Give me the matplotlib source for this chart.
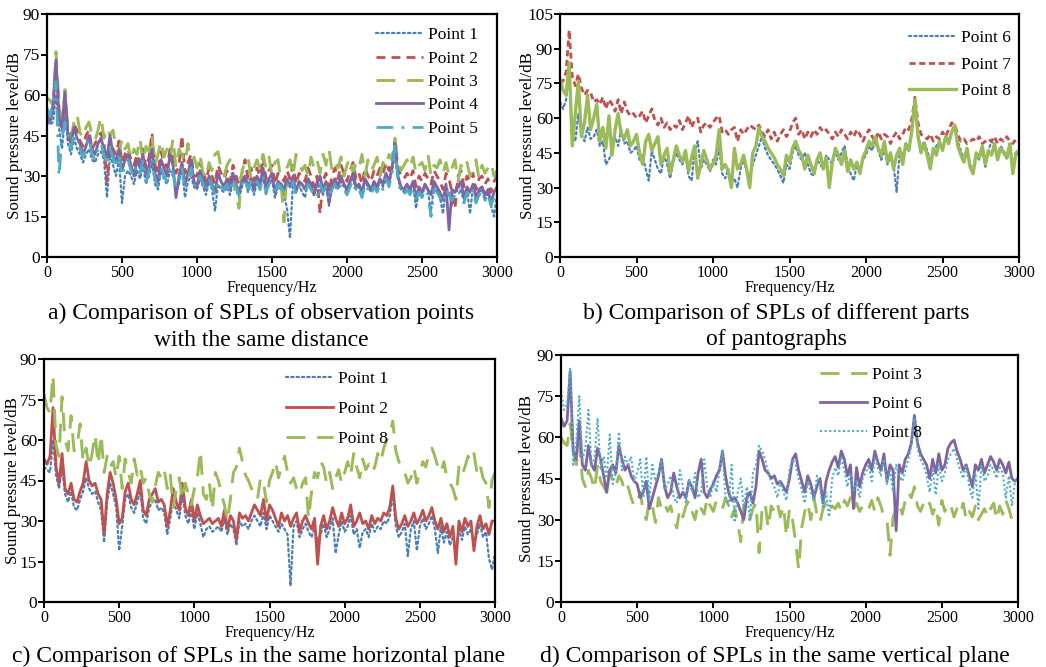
import matplotlib
matplotlib.use("Agg")
import matplotlib.pyplot as plt

plt.rcParams['font.family'] = ['Liberation Serif', 'DejaVu Serif']

# ---------------- data (frequency grid, Hz) ----------------
freq = list(range(0, 3001, 20))

# Panel a
a_point1 = [50,49,50,60,48,40,52,42,38,44, 40,38,35,38,40,36,35,38,39,36,
            22,38,34,30,36,20,30,32,30,27, 32,29,34,27,30,35,27,25,32,29,
            27,32,30,25,27,33,22,28,30,26, 25,29,26,23,28,25,17,27,25,24,
            26,23,28,25,22,26,29,24,27,23, 28,25,30,23,27,29,22,26,25,23,
            18,7,28,25,27,24,22,28,26,24, 28,25,23,27,19,26,29,25,28,26,
            24,27,29,25,26,23,28,26,24,27, 25,28,26,29,27,32,38,29,25,24,
            27,24,28,18,25,22,27,24,17,26, 25,22,16,26,24,19,25,27,24,21,
            25,16,26,22,24,25,21,24,19,15, 23]
a_point2 = [53,51,56,72,55,46,60,47,45,49, 47,43,41,45,47,40,42,44,46,42,
            28,44,40,38,43,35,38,40,36,34, 38,35,40,33,37,46,34,31,39,35,
            33,40,37,31,34,45,31,35,38,30, 30,35,32,28,33,30,27,34,31,29,
            32,28,34,30,27,31,36,29,33,28, 33,30,37,29,32,34,27,31,30,28,
            32,29,34,27,31,30,28,33,30,26, 30,16,28,31,24,30,33,29,34,31,
            28,32,35,29,31,27,33,30,28,32, 30,33,31,35,32,36,43,33,30,29,
            31,29,32,26,30,28,31,29,27,32, 30,28,25,31,29,24,18,30,32,26,
            30,28,31,25,29,30,27,29,24,28, 30]
a_point3 = [59,58,56,76,57,50,62,46,44,50, 53,46,44,48,50,45,43,47,52,44,
            48,45,47,40,38,44,40,42,36,40, 38,44,35,41,39,45,34,38,43,37,
            40,36,44,33,40,38,35,42,30,37, 33,38,31,29,35,32,38,39,33,30,
            34,36,28,23,18,32,35,37,29,33, 36,32,38,33,37,30,35,36,28,13,
            33,36,30,38,35,32,34,30,37,33, 36,31,38,34,40,32,35,33,37,30,
            34,37,31,35,33,38,30,36,32,34, 37,30,35,33,38,36,44,35,32,34,
            36,33,37,31,34,35,32,38,30,34, 33,36,31,35,30,33,36,28,34,32,
            35,30,33,36,29,34,31,33,35,30, 32]
a_point4 = [52,50,55,73,52,48,61,45,42,48, 44,42,38,41,45,40,38,42,44,40,
            37,45,38,35,40,32,36,38,34,30, 36,33,38,30,34,40,31,28,36,33,
            30,38,34,22,30,35,27,31,36,28, 26,32,29,25,30,27,24,31,28,26,
            29,25,31,27,24,28,30,26,29,25, 30,27,33,26,29,31,24,28,27,25,
            29,26,30,24,28,27,25,29,27,23, 27,30,25,28,20,27,29,26,30,27,
            25,28,31,26,27,24,29,27,25,28, 26,29,27,31,28,33,42,30,26,25,
            27,25,28,22,26,24,27,25,23,28, 26,24,21,27,10,25,24,26,28,22,
            26,24,27,22,25,26,23,25,20,24, 26]
a_point5 = [55,52,58,65,30,45,50,44,40,46, 42,40,37,40,44,38,36,40,42,38,
            34,40,37,33,38,30,34,36,32,30, 34,31,36,28,32,36,29,26,33,30,
            28,34,31,26,29,33,25,29,33,27, 26,30,27,24,29,26,23,28,26,25,
            27,24,29,26,23,27,29,25,28,24, 28,25,30,24,27,28,23,27,26,24,
            27,25,28,23,26,25,24,27,25,23, 22,27,24,26,21,25,27,24,27,25,
            23,26,28,24,25,22,27,25,23,26, 24,27,25,29,26,31,42,28,24,23,
            25,23,26,21,24,22,25,23,15,25, 24,22,20,25,23,21,23,25,22,20,
            24,22,25,20,23,24,21,23,19,22, 24]

# Panel b
b_point6 = [67,64,68,80,52,50,62,53,50,56, 51,52,55,48,50,40,42,46,52,48,
            55,49,50,45,46,48,42,44,38,33, 46,42,38,36,44,40,34,41,45,42,
            40,44,35,33,46,50,38,42,40,37, 42,40,47,36,34,38,32,34,30,38,
            42,37,35,40,44,48,52,47,44,42, 40,38,35,32,40,38,45,48,44,42,
            45,40,36,35,42,40,38,44,42,40, 46,42,45,48,40,36,33,40,38,42,
            44,48,46,50,46,42,47,40,43,40, 28,45,44,48,46,54,68,53,47,50,
            46,42,45,48,50,46,52,51,54,56, 50,46,42,45,40,37,44,42,47,39,
            46,50,48,44,48,46,42,47,40,44, 45]
b_point7 = [75,76,80,98,78,74,79,73,70,72, 71,67,68,66,69,64,68,66,63,68,
            62,67,63,61,62,60,61,63,58,61, 64,59,57,60,56,58,55,57,56,59,
            55,58,61,56,59,60,54,57,58,56, 58,60,61,54,55,53,55,56,50,55,
            53,55,57,56,55,57,54,52,55,51, 54,50,53,55,52,54,58,60,53,55,
            51,54,52,55,53,56,54,55,53,51, 54,52,55,53,51,54,52,55,53,50,
            53,55,52,50,54,51,53,52,49,52, 54,51,53,56,55,60,69,58,53,52,
            51,53,50,52,51,54,52,55,58,57, 53,50,51,49,50,51,50,52,49,50,
            51,50,52,49,51,50,52,50,49,51, 50]
b_point8 = [77,72,70,84,48,62,76,52,58,70, 55,60,66,50,56,47,61,44,55,62,
            53,51,55,48,50,53,45,40,50,53, 46,49,52,40,44,47,36,42,48,44,
            41,46,37,43,48,34,40,46,42,38, 40,44,55,38,40,37,30,47,38,40,
            44,38,30,45,48,56,52,50,47,45, 43,40,38,35,44,41,47,50,46,44,
            38,44,40,36,42,45,38,43,30,41, 47,44,40,46,37,42,38,41,36,43,
            46,50,48,52,47,44,50,41,45,38, 44,47,40,49,46,55,68,52,45,49,
            44,38,47,44,50,46,52,49,54,57, 48,44,41,47,39,36,45,43,48,40,
            46,44,49,42,47,45,43,49,36,45, 46]

# Panel c
c_point1 = [50,49,48,60,47,42,50,40,37,41, 35,34,38,41,46,42,40,41,37,34,
            22,37,44,40,35,19,28,38,40,35, 33,37,41,31,29,35,37,38,34,35,
            33,25,31,38,34,31,40,32,29,34, 27,33,29,24,27,28,26,27,28,26,
            31,25,29,27,21,30,28,29,27,30, 32,30,28,33,27,32,30,28,26,29,
            27,25,6,28,30,24,27,29,26,24, 28,22,25,29,24,27,31,18,25,30,
            26,28,32,25,27,20,26,27,24,29, 26,28,27,30,29,32,40,28,24,26,
            29,17,27,30,19,28,31,27,29,32, 27,18,28,22,26,21,24,20,27,23,
            28,25,27,22,25,29,24,26,16,12, 18]
c_point2 = [53,51,54,72,50,44,55,42,40,44, 38,37,41,44,52,45,43,44,40,38,
            25,40,48,44,38,29,31,41,44,38, 36,40,45,34,32,38,40,42,37,38,
            36,28,34,42,37,34,44,35,32,38, 30,36,32,29,30,31,29,30,31,28,
            34,27,32,30,23,33,31,32,30,33, 36,34,32,38,30,36,34,31,28,33,
            30,32,28,31,33,26,30,32,29,27, 31,14,28,32,27,30,35,31,28,33,
            29,31,36,28,30,33,29,30,27,32, 29,31,30,33,32,35,43,31,27,29,
            32,28,30,33,29,31,34,30,32,35, 30,27,31,26,29,24,28,14,30,26,
            31,28,30,19,28,32,27,29,25,30, 30]
c_point8 = [77,72,70,84,58,54,76,60,56,69, 56,58,66,52,57,50,55,62,51,62,
            48,54,50,52,46,54,42,53,48,44, 53,47,50,44,46,40,37,43,48,46,
            49,42,47,35,42,46,38,44,40,36, 42,46,56,40,38,44,34,48,45,40,
            36,30,38,48,50,57,52,47,45,42, 40,38,46,44,37,45,48,52,46,50,
            54,48,44,46,42,40,44,46,31,41, 48,46,52,50,44,48,42,46,49,44,
            48,52,47,55,50,46,53,49,51,48, 50,55,52,57,60,62,67,56,52,50,
            48,44,46,50,44,48,52,50,55,57, 54,50,48,52,46,44,42,38,50,47,
            50,54,52,55,48,51,46,44,35,45, 48]

# Panel d
d_point3 = [60,58,57,65,55,50,58,45,42,48, 45,41,50,44,42,40,48,44,42,46,
            44,40,42,38,35,36,40,33,30,37, 35,29,38,34,36,33,35,30,27,34,
            31,35,37,33,30,36,34,32,38,35, 33,37,36,34,38,35,31,34,29,22,
            35,33,30,34,36,18,34,36,27,35, 33,36,31,35,24,34,30,22,12,27,
            33,36,30,38,32,29,34,36,33,35, 34,36,33,37,35,38,34,36,33,35,
            36,34,37,33,38,35,31,30,17,31, 34,36,32,37,40,38,42,35,33,36,
            34,36,32,35,28,37,33,36,35,31, 34,32,36,30,33,31,35,30,32,34,
            31,34,36,30,35,32,37,34,30,32, 33]
d_point6 = [67,64,66,84,55,52,66,50,48,57, 50,48,56,52,46,40,48,50,47,57,
            52,48,50,46,44,43,38,40,44,34, 38,42,46,52,42,38,40,47,42,38,
            40,38,44,42,38,47,52,40,38,41, 43,46,48,55,46,40,37,38,36,33,
            30,38,40,36,42,55,52,48,47,45, 46,43,44,42,40,45,52,54,48,44,
            40,46,43,38,42,45,36,44,48,51, 53,49,55,52,46,50,34,49,42,47,
            50,52,48,55,51,48,54,44,50,48, 26,50,47,52,54,58,68,58,54,52,
            50,45,52,47,54,48,50,56,58,59, 55,52,48,50,46,42,50,48,52,47,
            50,53,51,48,52,50,47,51,45,44, 45]
d_point8 = [77,70,72,85,50,58,75,52,56,70, 50,52,67,48,53,45,61,43,47,62,
            48,53,50,53,44,47,52,38,53,37, 50,44,47,52,41,43,46,38,36,48,
            42,36,45,40,47,38,40,52,42,38, 44,40,48,55,38,35,50,29,40,45,
            34,42,30,47,50,57,55,52,47,44, 42,38,44,40,37,48,52,50,45,41,
            36,44,40,37,46,42,34,40,31,45, 49,46,53,48,42,47,40,44,38,45,
            47,50,44,53,49,46,52,43,48,40, 50,46,44,48,52,57,67,56,52,50,
            46,40,48,39,50,44,47,52,54,56, 52,48,45,50,42,38,47,34,50,44,
            46,50,48,45,49,47,38,46,35,44, 45]

x_ticks = [0, 500, 1000, 1500, 2000, 2500, 3000]
y_ticks_90 = [0, 15, 30, 45, 60, 75, 90]
y_ticks_105 = [0, 15, 30, 45, 60, 75, 90, 105]

# ---------------- styles ----------------
BLUE = '#4A7EBB'
RED = '#C0504D'
GREEN = '#9BBB59'
PURPLE = '#8064A2'
CYAN = '#4BACC6'

dotted = dict(linestyle=(0, (1, 1.4)), linewidth=1.6, dash_capstyle='round')
sqdot = dict(linestyle=(0, (1, 1.2)), linewidth=1.5)
dashed = dict(linestyle=(0, (3.2, 2.2)), linewidth=2.0)
shortdash = dict(linestyle=(0, (2.2, 1.3)), linewidth=2.0)
longdash = dict(linestyle=(0, (6.5, 4)), linewidth=2.1)
dashdot = dict(linestyle=(0, (6, 3, 1, 3)), linewidth=2.0)
solid = dict(linestyle='-', linewidth=2.0)
solid_thick = dict(linestyle='-', linewidth=2.4)

W, H = 1046, 667
fig = plt.figure(figsize=(W / 100, H / 100), dpi=100)


def px_axes(l, t, r, b):
    return fig.add_axes([l / W, 1 - b / H, (r - l) / W, (b - t) / H])


def style_axes(ax, yticks):
    ax.set_xlim(0, 3000)
    ax.set_ylim(yticks[0], yticks[-1])
    ax.set_xticks(x_ticks)
    ax.set_yticks(yticks)
    for s in ax.spines.values():
        s.set_linewidth(1.6)
        s.set_color('black')
    ax.tick_params(axis='both', direction='out', length=4, width=1.4, color='black')
    ax.tick_params(axis='x', labelsize=11.5, pad=2)
    ax.tick_params(axis='y', labelsize=12.5, pad=1)


panels = [
    dict(box=(47, 14, 497, 257), yt=y_ticks_90,
         series=[(a_point1, 'Point 1', BLUE, dotted),
                 (a_point2, 'Point 2', RED, dashed),
                 (a_point3, 'Point 3', GREEN, longdash),
                 (a_point4, 'Point 4', PURPLE, solid),
                 (a_point5, 'Point 5', CYAN, dashdot)],
         leg=(376, 27, 0.42), ylab_x=15, xlab_y=288,
         cap=[("a) Comparison of SPLs of observation points", 261, 313),
              ("with the same distance", 261, 340)]),
    dict(box=(560, 14, 1019, 257), yt=y_ticks_105,
         series=[(b_point6, 'Point 6', BLUE, dotted),
                 (b_point7, 'Point 7', RED, shortdash),
                 (b_point8, 'Point 8', GREEN, solid_thick)],
         leg=(909, 30, 0.6), ylab_x=528, xlab_y=288,
         cap=[("b) Comparison of SPLs of different parts", 776, 313),
              ("of pantographs", 776, 340)]),
    dict(box=(44, 359, 495, 602), yt=y_ticks_90,
         series=[(c_point1, 'Point 1', BLUE, dotted),
                 (c_point2, 'Point 2', RED, solid),
                 (c_point8, 'Point 8', GREEN, longdash)],
         leg=(286, 371, 0.8), ylab_x=13, xlab_y=633,
         cap=[("c) Comparison of SPLs in the same horizontal plane", 259, 656)]),
    dict(box=(561, 355, 1018, 602), yt=y_ticks_90,
         series=[(d_point3, 'Point 3', GREEN, longdash),
                 (d_point6, 'Point 6', PURPLE, solid),
                 (d_point8, 'Point 8', CYAN, sqdot)],
         leg=(820, 367, 0.74), ylab_x=527, xlab_y=633,
         cap=[("d) Comparison of SPLs in the same vertical plane", 775, 656)]),
]

for p in panels:
    l, t, r, b = p['box']
    ax = px_axes(l, t, r, b)
    for vals, lab, col, st in p['series']:
        ax.plot(freq, vals, color=col, label=lab, **st)
    style_axes(ax, p['yt'])
    lx, ly, lsp = p['leg']
    ax.legend(loc='upper left',
              bbox_to_anchor=((lx - l) / (r - l), (b - ly) / (b - t)),
              frameon=False, borderaxespad=0, borderpad=0,
              handlelength=2.7, handletextpad=0.3, labelspacing=lsp,
              fontsize=12.5)
    fig.text(p['ylab_x'] / W, 1 - ((t + b) / 2) / H, 'Sound pressure level/dB',
             rotation=90, ha='center', va='center', fontsize=12.3)
    fig.text(((l + r) / 2) / W, 1 - p['xlab_y'] / H, 'Frequency/Hz',
             ha='center', va='center', fontsize=11.5)
    for txt, cx, cy in p['cap']:
        fig.text(cx / W, 1 - cy / H, txt, ha='center', va='center', fontsize=17)

fig.savefig('out.png', dpi=100)
